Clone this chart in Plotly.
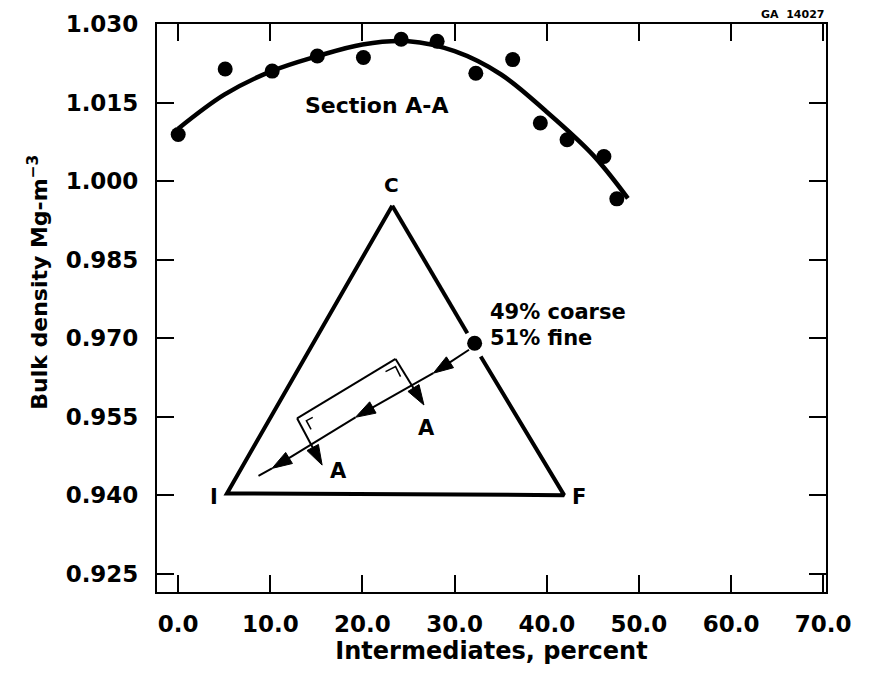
import plotly.graph_objects as go

# ---- data ----
pts_x = [0.0, 5.1, 10.2, 15.1, 20.1, 24.2, 28.1, 32.3, 36.3, 39.3, 42.2, 46.2, 47.6]
pts_y = [1.0089, 1.0214, 1.0210, 1.0239, 1.0236, 1.0271, 1.0267, 1.0206, 1.0232, 1.0111, 1.0079, 1.0047, 0.9966]

curve_x = [0, 5, 10, 15, 20, 25, 30, 35, 40, 45, 48.8]
curve_y = [1.0100, 1.0165, 1.0209, 1.0238, 1.0261, 1.0267, 1.0248, 1.0204, 1.0132, 1.0050, 0.9967]

# ternary-diagram inset (drawn in data coordinates)
tri_x = [23.23, 31.38, None, 32.83, 41.88, 5.29, 23.23]
tri_y = [0.9953, 0.97094, None, 0.96647, 0.9400, 0.94033, 0.9953]

mix_x = [32.17]
mix_y = [0.96903]

path_x = [31.56, 27.68, 19.24, 10.18, 6.92]
path_y = [0.96777, 0.96329, 0.95487, 0.94511, 0.94192]

sect_x = [26.67, 23.59, 12.90, 15.62]
sect_y = [0.95722, 0.96602, 0.95468, 0.94574]

brk1_x = [22.5, 23.59, 24.13]
brk1_y = [0.96359, 0.96455, 0.96264]
brk2_x = [14.6, 13.91, 14.42]
brk2_y = [0.95487, 0.95422, 0.95257]

x_ticks = [0, 10, 20, 30, 40, 50, 60, 70]
y_ticks = [0.925, 0.940, 0.955, 0.970, 0.985, 1.000, 1.015, 1.030]

FONT = "DejaVu Sans"
HEAD = 21

fig = go.Figure()

fig.add_trace(go.Scatter(x=curve_x, y=curve_y, mode="lines",
                         line=dict(color="black", width=4.5, shape="spline", smoothing=1.0),
                         showlegend=False, hoverinfo="skip"))
fig.add_trace(go.Scatter(x=pts_x, y=pts_y, mode="markers",
                         marker=dict(color="black", size=15),
                         showlegend=False))
fig.add_trace(go.Scatter(x=tri_x, y=tri_y, mode="lines",
                         line=dict(color="black", width=4),
                         showlegend=False, hoverinfo="skip"))
# flow path with arrowheads along it
fig.add_trace(go.Scatter(x=path_x, y=path_y, mode="lines+markers",
                         line=dict(color="black", width=2),
                         marker=dict(symbol="arrow", angleref="previous", color="black",
                                     opacity=1, size=[0, HEAD, HEAD, HEAD, 0],
                                     line=dict(width=1, color="black")),
                         showlegend=False, hoverinfo="skip"))
# section A-A symbol
fig.add_trace(go.Scatter(x=sect_x[1:3], y=sect_y[1:3], mode="lines",
                         line=dict(color="black", width=2),
                         showlegend=False, hoverinfo="skip"))
for i0, i1 in [(1, 0), (2, 3)]:
    fig.add_trace(go.Scatter(x=[sect_x[i0], sect_x[i1]], y=[sect_y[i0], sect_y[i1]],
                             mode="lines+markers",
                             line=dict(color="black", width=2),
                             marker=dict(symbol="arrow", angleref="previous", color="black",
                                         opacity=1, size=[0, HEAD],
                                         line=dict(width=1, color="black")),
                             showlegend=False, hoverinfo="skip"))
for bx, by in [(brk1_x, brk1_y), (brk2_x, brk2_y)]:
    fig.add_trace(go.Scatter(x=bx, y=by, mode="lines",
                             line=dict(color="black", width=1.5),
                             showlegend=False, hoverinfo="skip"))
fig.add_trace(go.Scatter(x=mix_x, y=mix_y, mode="markers",
                         marker=dict(color="black", size=15),
                         showlegend=False))

annotations = []

def label(txt, x, y, size, xanchor="center"):
    annotations.append(dict(x=x, y=y, xref="x", yref="y", text=txt,
                            showarrow=False, xanchor=xanchor, yanchor="middle",
                            font=dict(family=FONT, size=size, color="black", weight="bold")))

label("Section A-A", 21.5, 1.01448, 22)
label("C", 23.2, 0.99918, 20)
label("I", 3.9, 0.93968, 21)
label("F", 43.5, 0.93968, 21)
label("A", 26.9, 0.95277, 21)
label("A", 17.4, 0.94460, 21)
label("49% coarse", 33.6, 0.97507, 21, "left")
label("51% fine", 33.6, 0.97010, 21, "left")

annotations.append(dict(x=1.0, y=1.0176, xref="paper", yref="paper",
                        text="GA  14027", showarrow=False,
                        xanchor="right", yanchor="middle",
                        font=dict(family=FONT, size=11, color="black", weight="bold")))

# y-axis title (placed as rotated text to match the reference position)
annotations.append(dict(x=-0.178, y=0.546, xref="paper", yref="paper",
                        text="Bulk density Mg-m<sup>\u22123</sup>", textangle=-90,
                        showarrow=False, xanchor="center", yanchor="middle",
                        font=dict(family=FONT, size=22, color="black", weight="bold")))

axis_common = dict(showline=True, linecolor="black", linewidth=2, mirror="ticks",
                   ticks="inside", ticklen=17, tickwidth=2, tickcolor="black",
                   showgrid=False, zeroline=False, automargin=False,
                   tickfont=dict(family=FONT, size=23, color="black", weight="bold"))

# figure sized to fit the 871x675 window inside the page's default 8px body margin
fig.update_layout(
    width=855, height=659,
    margin=dict(l=149, r=37, t=16, b=75),
    paper_bgcolor="white", plot_bgcolor="white",
    font=dict(family=FONT, color="black", weight="bold"),
    showlegend=False,
    annotations=annotations,
    xaxis=dict(range=[-2.3, 70.3], tickvals=x_ticks, tickformat=".1f",
               ticklabelstandoff=10,
               title=dict(text="Intermediates, percent",
                          font=dict(family=FONT, size=24, color="black", weight="bold"),
                          standoff=6),
               **axis_common),
    yaxis=dict(range=[0.9215, 1.030], tickvals=y_ticks, tickformat=".3f",
               ticklabelstandoff=12,
               **axis_common),
)

fig.write_html("out.html")
